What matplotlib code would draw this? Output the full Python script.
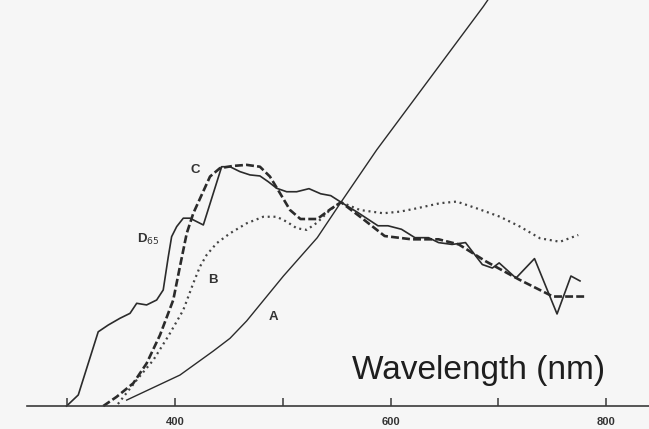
import matplotlib
matplotlib.use('Agg')
import matplotlib.pyplot as plt

# wavelength (nm) / relative power
a_wl = [355.2, 404.6, 435.5, 451.0, 466.5, 500.6, 532.0, 554.0, 587.1, 686.0, 694.1]
a_val = [2.9, 15.1, 26.8, 33.0, 41.5, 63.4, 82.1, 99.4, 124.9, 194.8, 201.0]

b_wl = [347.1, 364.5, 379.9, 394.4, 407.7, 417.0, 423.2, 429.4, 438.7, 451.0,
        466.5, 481.9, 494.3, 503.6, 512.9, 522.2, 532.0, 543.8, 554.0, 571.6,
        593.2, 608.7, 624.2, 645.8, 661.3, 679.9, 701.5, 720.0, 738.6, 757.1, 774.1]
b_val = [1.0, 12.7, 22.4, 34.6, 46.8, 59.9, 68.0, 73.7, 79.4, 84.2,
         89.1, 92.3, 92.3, 89.9, 86.7, 85.9, 89.5, 95.6, 99.4, 95.6,
         94.0, 94.8, 96.4, 98.9, 99.7, 96.4, 92.3, 87.5, 81.8, 80.1, 83.4]

c_wl = [333.5, 345.9, 361.3, 373.7, 386.1, 398.4, 404.6, 410.9, 417.0, 432.5,
        441.7, 454.1, 466.5, 478.8, 488.1, 497.4, 506.7, 516.4, 532.0, 544.5,
        554.0, 572.5, 594.5, 619.5, 644.5, 663.3, 688.2, 719.5, 750.6, 781.9]
c_val = [0.0, 4.5, 11.1, 20.8, 34.6, 51.7, 68.0, 84.2, 94.0, 111.9,
         116.0, 117.1, 117.6, 116.7, 111.9, 103.8, 95.6, 91.2, 91.2, 96.1,
         99.4, 92.0, 82.9, 81.3, 81.3, 78.8, 70.6, 61.6, 53.4, 53.4]

d65_wl = [299.5, 310.3, 328.8, 338.1, 349.0, 358.3, 364.5, 373.7, 383.0, 389.1,
          393.8, 396.9, 401.6, 407.7, 413.9, 426.3, 443.3, 451.0, 460.3, 469.6,
          478.8, 486.5, 494.3, 503.6, 512.9, 524.3, 535.2, 544.5, 554.0, 569.5,
          588.3, 597.6, 610.1, 622.6, 635.2, 644.5, 657.0, 669.5, 685.1, 694.4,
          700.7, 716.3, 733.5, 754.4, 767.3, 775.7]
d65_val = [0.0, 5.4, 36.2, 39.5, 42.8, 45.2, 50.1, 49.3, 51.7, 56.6,
           72.8, 82.6, 87.5, 91.6, 91.6, 88.3, 116.7, 116.7, 114.3, 112.7,
           112.2, 109.4, 106.2, 104.5, 104.5, 106.0, 103.5, 102.6, 99.4, 94.4,
           87.9, 87.9, 86.2, 82.1, 82.1, 79.7, 78.8, 79.7, 69.0, 67.3,
           69.8, 62.4, 71.9, 44.9, 63.4, 61.0]

tick_pos = [300, 400, 500, 600, 700, 800]
tick_labels = [400, 600, 800]

ink = '#2b2b2b'

fig = plt.figure(figsize=(6.49, 4.29), dpi=100, facecolor='#f6f6f6')
ax = fig.add_axes([0, 0, 1, 1])
ax.set_facecolor('#f6f6f6')
ax.set_xlim(237.7, 839.7)
ax.set_ylim(-11.2, 198.0)
ax.axis('off')

# the four illuminants
ax.plot(a_wl, a_val, color=ink, lw=1.0)
ax.plot(b_wl, b_val, color='#444444', lw=1.6, linestyle=(0, (0.9, 1.7)))
ax.plot(c_wl, c_val, color=ink, lw=1.9, linestyle=(0, (3.0, 1.2)))
ax.plot(d65_wl, d65_val, color=ink, lw=1.2)

# curve labels
lab = dict(color='#333333', fontsize=9.5, fontweight='bold', ha='center', va='center',
           family='Liberation Sans')
ax.text(418.6, 115.1, 'C', **lab)
ax.text(375.0, 81.0, r'D$_{65}$', **lab)
ax.text(435.5, 61.5, 'B', **lab)
ax.text(491.4, 43.4, 'A', **lab)

# baseline axis with upward ticks
ax.plot([262.7, 839.7], [0, 0], color='#3a3a3a', lw=1.2)
ax.vlines(tick_pos, 0, 3.9, color='#3a3a3a', lw=1.1)
for t in tick_labels:
    ax.text(t, -7.8, str(t), ha='center', va='center', fontsize=8,
            fontweight='bold', color='#333333', family='Liberation Sans')

ax.text(564.2, 13.2, 'Wavelength (nm)', fontsize=24, color='#1e1e1e',
        ha='left', va='baseline', family='Liberation Sans')

fig.savefig('out.png', dpi=100, facecolor=fig.get_facecolor())
